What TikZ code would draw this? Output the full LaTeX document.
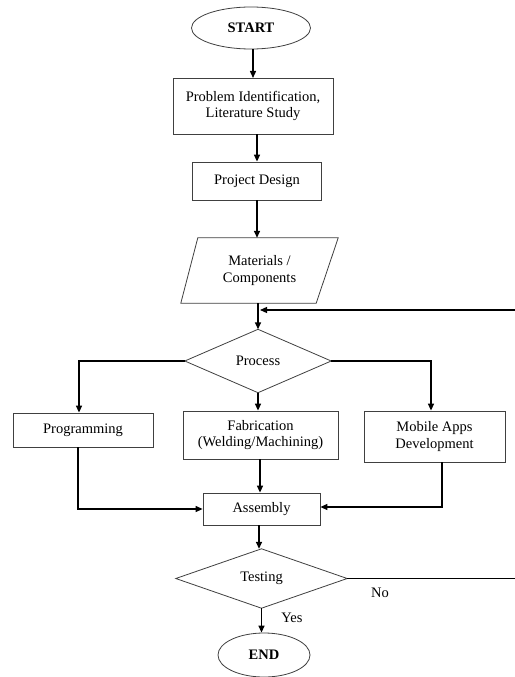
\documentclass[tikz,border=0pt]{standalone}
\usepackage{fontspec}
\setmainfont{Liberation Serif}
\usetikzlibrary{arrows.meta,shapes.geometric,calc}
\begin{document}
\begin{tikzpicture}[x=1pt,y=-1pt,
  every node/.style={font=\fontsize{14.5}{16.7}\selectfont, align=center, inner sep=0pt},
  box/.style={draw=black!75, line width=0.8pt, rectangle},
  term/.style={draw=black!75, line width=0.8pt, ellipse},
  dec/.style={draw=black!75, line width=0.8pt, diamond, aspect=2.4},
  conn/.style={line width=1.4pt, -{Triangle[length=7pt,width=6pt]}},
  plain/.style={line width=1.2pt},
  lbl/.style={font=\fontsize{14.5}{16.7}\selectfont}]
\useasboundingbox (0,0) rectangle (514,677);
\fill[white] (0,0) rectangle (514,677);

\node[term, minimum width=119, minimum height=42] (start) at (251,28) {\textbf{START}};
\node[box, minimum width=160, minimum height=56] (pid) at (253,106) {Problem Identification,\\Literature Study};
\node[box, minimum width=129, minimum height=38] (pd) at (257,181) {Project Design};
\node[minimum width=157, minimum height=65] (mat) at (259.5,270.5) {Materials /\\Components};
\draw[black!75, line width=0.8pt] (mat.south west) -- ([xshift=-22]mat.south east) -- (mat.north east) -- ([xshift=17]mat.north west) -- cycle;
\node[draw=none, minimum width=146, minimum height=63] (proc) at (258,361) {Process};
\draw[black!75, line width=0.8pt] (proc.north) -- (proc.east) -- (proc.south) -- (proc.west) -- cycle;
\node[box, minimum width=140, minimum height=34] (prog) at (83,430) {Programming};
\node[box, minimum width=155, minimum height=48] (fab) at (260.5,435) {Fabrication\\(Welding/Machining)};
\node[box, minimum width=141, minimum height=51] (mob) at (434.5,436.5) {Mobile Apps\\Development};
\node[box, minimum width=117, minimum height=32] (asm) at (261.5,509) {Assembly};
\node[draw=none, minimum width=171, minimum height=59] (tst) at (261.5,578.5) {Testing};
\draw[black!75, line width=0.8pt] (tst.north) -- (tst.east) -- (tst.south) -- (tst.west) -- cycle;
\node[term, minimum width=92, minimum height=44] (end) at (264,655) {\textbf{END}};

% main flow
\draw[conn] (start.south -| 253,0) -- (253,78);
\draw[conn] (pid.south -| 257,0) -- (pd.north -| 257,0);
\draw[conn] (pd.south -| 257,0) -- (mat.north -| 257,0);
\draw[conn] (mat.south -| 258,0) -- (proc.north);
\coordinate (loopin) at (260,310);
\draw[plain, -{Triangle[length=7pt,width=6pt]}] (tst.east) -- (520,578.5) -- (520,310) -- (loopin);

% branches
\draw[plain] (proc.west) -- (79,361);
\draw[conn] (79,360.4) -- (prog.north -| 79,0);
\draw[conn] (proc.south) -- (fab.north -| 258,0);
\draw[plain] (proc.east) -- (431,361);
\draw[conn] (431,360.4) -- (mob.north -| 431,0);

% merges
\draw[plain, -{Triangle[length=7pt,width=6pt]}] (prog.south -| 78,0) -- (78,509) -- (asm.west);
\draw[conn] (fab.south -| 260,0) -- (asm.north -| 260,0);
\draw[plain, -{Triangle[length=7pt,width=6pt]}] (mob.south -| 442,0) -- (442,507) -- (asm.east |- 0,507);
\draw[conn] (asm.south -| 259,0) -- (tst.north -| 259,0);
\draw[conn] (tst.south) -- (end.north -| 261.5,0);

\node[lbl] (no) at (380,593) {No};
\node[lbl] (yes) at (292,618) {Yes};
\end{tikzpicture}
\end{document}
